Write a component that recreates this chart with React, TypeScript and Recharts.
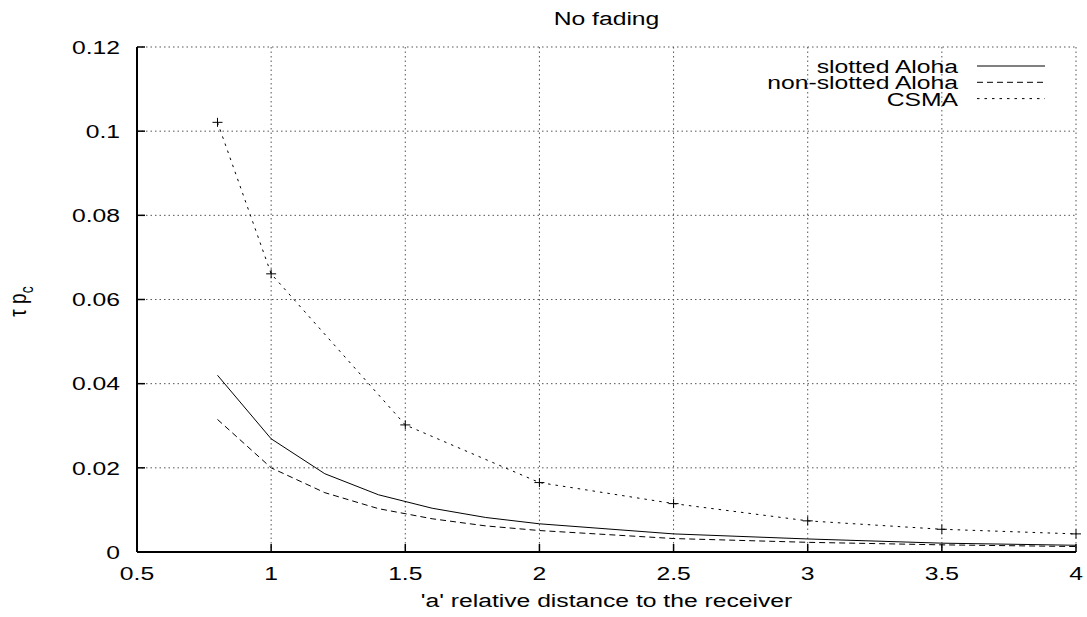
import React from 'react';
import {
  LineChart,
  CartesianGrid,
  XAxis,
  YAxis,
  Label,
  Legend,
  Line,
} from 'recharts';

// tick values
const xTicks = [0.5, 1, 1.5, 2, 2.5, 3, 3.5, 4];
const yTicks = [0, 0.02, 0.04, 0.06, 0.08, 0.1, 0.12];

// aloha curves (no markers)
const alohaX = [0.8, 1, 1.2, 1.4, 1.6, 1.8, 2, 2.5, 3, 3.5, 4];
const slottedAloha = [0.042, 0.0269, 0.0186, 0.0136, 0.0104, 0.0082, 0.0067, 0.0043, 0.0031, 0.0021, 0.0016];
const nonSlottedAloha = [0.0315, 0.02, 0.0141, 0.0103, 0.0079, 0.0062, 0.0051, 0.0032, 0.0023, 0.0017, 0.0013];

// csma curve (with + markers)
const csmaX = [0.8, 1, 1.5, 2, 2.5, 3, 3.5, 4];
const csma = [0.1021, 0.0661, 0.0302, 0.0165, 0.0115, 0.0074, 0.0054, 0.0043];

const seriesNames = ['slotted Aloha', 'non-slotted Aloha', 'CSMA'];
const seriesDash = ['', '6 4', '2.5 5'];

const slottedData = alohaX.map((x, i) => ({ x, y: slottedAloha[i] }));
const nonSlottedData = alohaX.map((x, i) => ({ x, y: nonSlottedAloha[i] }));
const csmaData = csmaX.map((x, i) => ({ x, y: csma[i] }));

const FONT = '"Liberation Sans", Arial, Helvetica, sans-serif';
const FS = 19;
const SX = 1.3;
const W = 1087;
const H = 617;

const XTick = ({ x, y, payload }: any) => (
  <text
    transform={`translate(${x},${y}) scale(${SX},1)`}
    textAnchor="middle"
    dy="0.71em"
    fontSize={FS}
    fontFamily={FONT}
    fill="#000"
  >
    {String(payload.value)}
  </text>
);

const YTick = ({ x, y, payload }: any) => (
  <text
    transform={`translate(${x},${y}) scale(${SX},1)`}
    textAnchor="end"
    dy="0.355em"
    fontSize={FS}
    fontFamily={FONT}
    fill="#000"
  >
    {String(payload.value)}
  </text>
);

const PlusDot = (props: any) => {
  const { cx, cy, index } = props;
  if (cx == null || cy == null) return <g key={index} />;
  return (
    <g key={index}>
      <line x1={cx - 5} x2={cx + 5} y1={cy} y2={cy} stroke="#000" strokeWidth={1} />
      <line x1={cx} x2={cx} y1={cy - 4.5} y2={cy + 4.5} stroke="#000" strokeWidth={1} />
    </g>
  );
};

const LegendBox = () => (
  <svg width={W} height={120} style={{ position: 'absolute', left: 0, top: 0, pointerEvents: 'none' }}>
    {seriesNames.map((name, i) => (
      <g key={name}>
        <text
          transform={`translate(958,${73 + i * 16.3}) scale(${SX},1)`}
          textAnchor="end"
          fontSize={FS}
          fontFamily={FONT}
          fill="#000"
        >
          {name}
        </text>
        <line
          x1={977}
          x2={1045}
          y1={66 + i * 16.3}
          y2={66 + i * 16.3}
          stroke="#000"
          strokeWidth={1}
          strokeDasharray={seriesDash[i] || undefined}
        />
      </g>
    ))}
  </svg>
);

const axisStroke = { stroke: '#000', strokeWidth: 2 };
const tickStroke = { stroke: '#000', strokeWidth: 1.5 };

export default function App() {
  return (
    <div style={{ position: 'absolute', left: 0, top: 0, width: W, height: H, background: '#fff' }}>
      <LineChart width={W} height={H} margin={{ top: 47, right: 11, bottom: 0, left: 0 }}>
        <CartesianGrid stroke="#555" strokeDasharray="1.5 3" />
        <XAxis
          type="number"
          dataKey="x"
          domain={[0.5, 4]}
          ticks={xTicks}
          height={65}
          tickSize={-8}
          tickMargin={23}
          tick={<XTick />}
          axisLine={axisStroke}
          tickLine={tickStroke}
        >
          <Label
            content={({ viewBox }: any) => (
              <g>
                <text
                  transform={`translate(${viewBox.x + viewBox.width / 2},607) scale(${SX},1)`}
                  textAnchor="middle"
                  fontSize={FS}
                  fontFamily={FONT}
                  fill="#000"
                >
                  'a' relative distance to the receiver
                </text>
                <text
                  transform={`translate(${viewBox.x + viewBox.width / 2},25) scale(${SX},1)`}
                  textAnchor="middle"
                  fontSize={FS}
                  fontFamily={FONT}
                  fill="#000"
                >
                  No fading
                </text>
              </g>
            )}
          />
        </XAxis>
        <XAxis
          xAxisId="top"
          orientation="top"
          type="number"
          dataKey="x"
          domain={[0.5, 4]}
          ticks={xTicks}
          height={0}
          tickSize={-8}
          tick={false}
          axisLine={axisStroke}
          tickLine={tickStroke}
        />
        <YAxis
          type="number"
          domain={[0, 0.12]}
          ticks={yTicks}
          width={137}
          tickSize={-8}
          tickMargin={25}
          tick={<YTick />}
          axisLine={axisStroke}
          tickLine={tickStroke}
        >
          <Label
            content={({ viewBox }: any) => (
              <text
                transform={`translate(26,${viewBox.y + viewBox.height / 2 + 2}) rotate(-90) scale(1,${SX})`}
                textAnchor="middle"
                fontSize={FS}
                fontFamily={FONT}
                fill="#000"
              >
                τ p
                <tspan fontSize={14} dy={5}>c</tspan>
              </text>
            )}
          />
        </YAxis>
        <YAxis
          yAxisId="right"
          orientation="right"
          type="number"
          domain={[0, 0.12]}
          ticks={yTicks}
          width={0}
          tickSize={-8}
          tick={false}
          axisLine={axisStroke}
          tickLine={tickStroke}
        />
        <Legend
          layout="horizontal"
          align="center"
          verticalAlign="middle"
          content={() => <LegendBox />}
          wrapperStyle={{ left: 0, top: 0, width: W, height: 0 }}
        />
        <Line
          name={seriesNames[0]}
          data={slottedData}
          dataKey="y"
          type="linear"
          stroke="#000"
          strokeWidth={1}
          dot={false}
          activeDot={false}
          isAnimationActive={false}
        />
        <Line
          name={seriesNames[1]}
          data={nonSlottedData}
          dataKey="y"
          type="linear"
          stroke="#000"
          strokeWidth={1}
          strokeDasharray={seriesDash[1]}
          dot={false}
          activeDot={false}
          isAnimationActive={false}
        />
        <Line
          name={seriesNames[2]}
          data={csmaData}
          dataKey="y"
          type="linear"
          stroke="#000"
          strokeWidth={1}
          strokeDasharray={seriesDash[2]}
          dot={PlusDot}
          activeDot={false}
          isAnimationActive={false}
        />
      </LineChart>
    </div>
  );
}
